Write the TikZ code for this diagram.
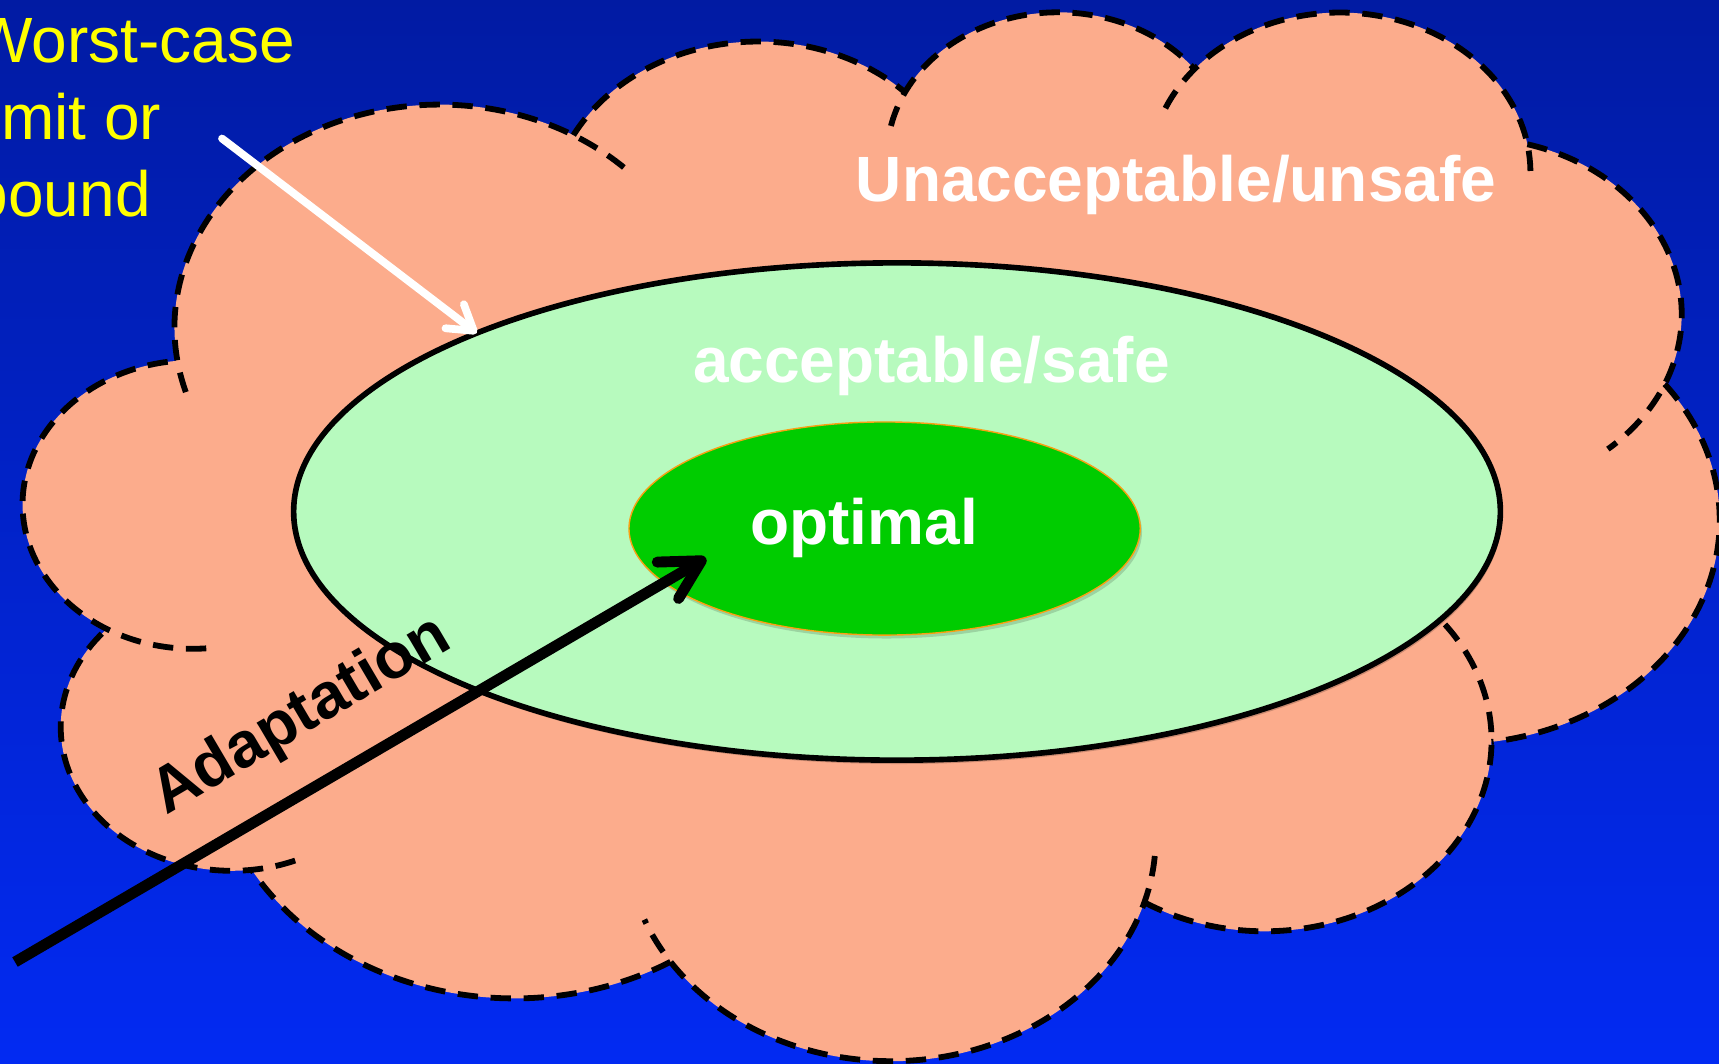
\documentclass[tikz,border=0pt]{standalone}
\usepackage{fontspec}
\setmainfont{Liberation Sans}
\usetikzlibrary{arrows.meta,shapes.geometric}
\definecolor{bgtop}{RGB}{1,27,163}
\definecolor{bgbot}{RGB}{2,42,242}
\definecolor{cloudfill}{RGB}{252,172,140}
\definecolor{safefill}{RGB}{183,250,190}
\definecolor{optfill}{RGB}{0,204,0}
\definecolor{optedge}{RGB}{250,160,20}
\definecolor{warnyellow}{RGB}{255,255,0}
\begin{document}
\begin{tikzpicture}[x=0.01cm,y=-0.01cm,
  cloudline/.style={draw=black,line width=1.65pt,dash pattern=on 5.8pt off 3.6pt},
  labeltext/.style={font=\fontsize{18.2pt}{21.9pt}\selectfont\bfseries,inner sep=0pt,anchor=base},
  oval/.style={ellipse,inner sep=0pt,outer sep=0pt}]
\useasboundingbox (0,0) rectangle (1719,1063);
\clip (0,0) rectangle (1719,1063);
\shade[top color=bgtop,bottom color=bgbot] (0,0) rectangle (1719,1063);
% cloud
\begin{scope}[shift={(23.9,8.9)},x=0.003925cm,y=-0.0024225cm]
  \fill[cloudfill] (390.0,1437.0)
    arc[start angle=-187.745,end angle=-59.635,x radius=675.3,y radius=919.0]
    arc[start angle=-152.035,end angle=-45.434,x radius=533.3,y radius=726.7]
    arc[start angle=-153.499,end angle=-37.33,x radius=436.5,y radius=594.5]
    arc[start angle=-139.709,end angle=-10.211,x radius=485.7,y radius=659.5]
    arc[start angle=-74.773,end angle=23.208,x radius=533.3,y radius=727.3]
    arc[start angle=-37.512,end angle=81.863,x radius=677.5,y radius=922.0]
    arc[start angle=0.4596,end angle=121.98,x radius=578.5,y radius=786.7]
    arc[start angle=16.843,end angle=146.237,x radius=675.2,y radius=921.5]
    arc[start angle=58.988,end angle=150.169,x radius=772.0,y radius=1054.3]
    arc[start angle=83.306,end angle=223.105,x radius=436.0,y radius=591.8]
    arc[start angle=120.365,end angle=264.083,x radius=434.5,y radius=594.5]
    -- cycle;
  \draw[cloudline] (412.70,1578.92) arc[start angle=163.19,end angle=314.27,x radius=675.3,y radius=919.0];
  \draw[cloudline] (1400.46,520.31) arc[start angle=-152.035,end angle=-45.434,x radius=533.3,y radius=726.7];
  \draw[cloudline] (2209.85,482.18) arc[start angle=-167.725,end angle=-37.33,x radius=436.5,y radius=594.5];
  \draw[cloudline] (2909.25,409.33) arc[start angle=-156.288,end angle=0.821,x radius=485.7,y radius=659.5];
  \draw[cloudline] (3831.89,557.63) arc[start angle=-74.773,end angle=49.658,x radius=533.3,y radius=727.3];
  \draw[cloudline] (4181.94,1545.94) arc[start angle=-37.512,end angle=81.863,x radius=677.5,y radius=922.0];
  \draw[cloudline] (3415.27,2306.52) arc[start angle=-64.03,end angle=121.98,x radius=578.5,y radius=786.7];
  \draw[cloudline] (2882.27,3490.21) arc[start angle=4.737,end angle=158.473,x radius=675.2,y radius=921.5];
  \draw[cloudline] (1648.04,3926.29) arc[start angle=58.988,end angle=150.169,x radius=772.0,y radius=1054.3];
  \draw[cloudline] (691.43,3508.92) arc[start angle=68.238,end angle=223.105,x radius=436.0,y radius=591.8];
  \draw[cloudline] (464.76,2634.60) arc[start angle=85.546,end angle=264.083,x radius=434.5,y radius=594.5];
\end{scope}
% ellipses
\fill[black,opacity=0.2] (899,515.5) ellipse [x radius=603,y radius=248.5];
\node[oval,draw=black,line width=1.6pt,fill=safefill,minimum width=12.06cm,minimum height=4.97cm] (safe) at (897,511.5) {};
\fill[black,opacity=0.15] (886.5,532) ellipse [x radius=255.5,y radius=106.5];
\node[oval,draw=optedge,line width=0.4pt,fill=optfill,minimum width=5.11cm,minimum height=2.13cm] (opt) at (884.6,528.5) {};
% labels
\node[labeltext,text=white] (unsafelbl) at (1176,201) {Unacceptable/unsafe};
\node[labeltext,text=white] (safelbl) at (931.5,382.7) {acceptable/safe};
\node[labeltext,text=white] (optlbl) at (864,544) {optimal};
\node[labeltext,text=black,rotate=30.5] (adaptlbl) at (310,731) {Adaptation};
\node[anchor=base west,inner sep=0pt,text=warnyellow,font=\fontsize{18.2pt}{21.9pt}\selectfont] (worst) at (-28,62.3)
  {\begin{tabular}[t]{@{}l@{}}Worst-case\\limit or\\bound\end{tabular}};
% arrows
\coordinate (wtail) at (222,138.5);
\coordinate (atail) at (15,962);
\coordinate (ahead) at (706,558);
\draw[white,line width=2.2pt,line cap=round,-{Straight Barb[length=6.8pt,width=8.6pt,line cap=round,line join=round]}] (wtail) -- (safe.157.3);
\draw[black,line width=3.1pt,-{Straight Barb[length=11pt,width=12pt,line cap=round,line join=round]}] (atail) -- (ahead);
\end{tikzpicture}
\end{document}
